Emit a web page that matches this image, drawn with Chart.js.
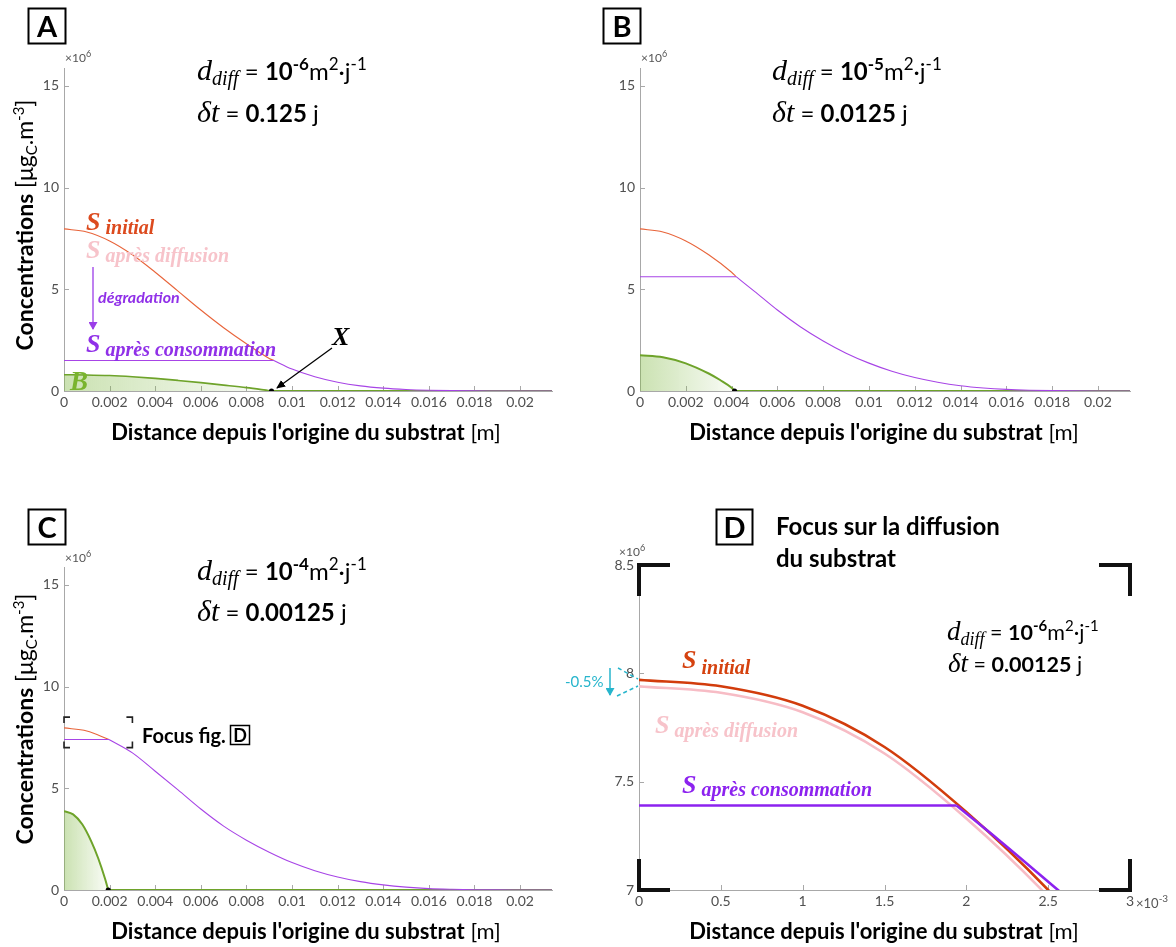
<!DOCTYPE html>
<html><head><meta charset="utf-8">
<script src="https://cdn.jsdelivr.net/npm/chart.js@4/dist/chart.umd.min.js"></script>
<style>
html,body{margin:0;padding:0;background:#fff}
body{width:1176px;height:947px;position:relative;overflow:hidden}
canvas{position:absolute}
#ov{position:absolute;left:0;top:0}
</style></head>
<body>
<canvas id="cA" width="580" height="470" style="left:0;top:0"></canvas>
<canvas id="cB" width="596" height="470" style="left:580px;top:0"></canvas>
<canvas id="cC" width="580" height="477" style="left:0;top:470px"></canvas>
<canvas id="cD" width="596" height="477" style="left:580px;top:470px"></canvas>

<svg id="ov" width="1176" height="947" xmlns="http://www.w3.org/2000/svg">
<defs>
<marker id="ahK" markerWidth="9" markerHeight="8" refX="8" refY="4" orient="auto" markerUnits="userSpaceOnUse"><path d="M0,0 L9,4 L0,8 z" fill="#000"/></marker>
<marker id="ahP" markerWidth="8" markerHeight="9" refX="7" refY="4.5" orient="auto" markerUnits="userSpaceOnUse"><path d="M0,0 L8,4.5 L0,9 z" fill="#9b3de8"/></marker>
<marker id="ahC" markerWidth="8" markerHeight="9" refX="7" refY="4.5" orient="auto" markerUnits="userSpaceOnUse"><path d="M0,0 L8,4.5 L0,9 z" fill="#27b5cc"/></marker>
</defs>

<!-- Panel letters -->
<g font-family="Lato" font-weight="700" font-size="29" text-anchor="middle" fill="#000">
<rect x="28.5" y="8.5" width="37" height="35" fill="none" stroke="#000" stroke-width="2"/>
<text x="47" y="37">A</text>
<rect x="603.5" y="8.5" width="37" height="35" fill="none" stroke="#000" stroke-width="2"/>
<text x="622" y="37">B</text>
<rect x="28.5" y="509.5" width="37" height="35" fill="none" stroke="#000" stroke-width="2"/>
<text x="47" y="538">C</text>
<rect x="716.5" y="509.5" width="36" height="35" fill="none" stroke="#000" stroke-width="2"/>
<text x="734.5" y="538">D</text>
</g>

<!-- x10^6 labels -->
<g font-family="Lato" font-size="12" fill="#555">
<text x="65" y="62">×10<tspan font-size="9" dy="-5">6</tspan></text>
<text x="641" y="62">×10<tspan font-size="9" dy="-5">6</tspan></text>
<text x="65" y="562">×10<tspan font-size="9" dy="-5">6</tspan></text>
<text x="619" y="556">×10<tspan font-size="9" dy="-5">6</tspan></text>
<text x="1136" y="908" font-size="13">×10<tspan font-size="10" dy="-6">-3</tspan></text>
</g>

<!-- Formulas -->
<g font-family="Lato" font-size="24" fill="#000">
<text x="197" y="80"><tspan font-family="Liberation Serif" font-style="italic" font-size="30">d</tspan><tspan font-family="Liberation Serif" font-style="italic" font-size="20" dy="5">diff</tspan><tspan dy="-5"> = </tspan><tspan font-weight="700">10</tspan><tspan font-weight="700" font-size="17" dy="-10">-6</tspan><tspan dy="10">m</tspan><tspan font-size="17" dy="-10">2</tspan><tspan dy="10">·j</tspan><tspan font-size="17" dy="-10">-1</tspan></text>
<text x="197" y="122"><tspan font-family="Liberation Serif" font-style="italic" font-size="30">δt</tspan><tspan> = </tspan><tspan font-weight="700">0.125</tspan><tspan> j</tspan></text>

<text x="772" y="80"><tspan font-family="Liberation Serif" font-style="italic" font-size="30">d</tspan><tspan font-family="Liberation Serif" font-style="italic" font-size="20" dy="5">diff</tspan><tspan dy="-5"> = </tspan><tspan font-weight="700">10</tspan><tspan font-weight="700" font-size="17" dy="-10">-5</tspan><tspan dy="10">m</tspan><tspan font-size="17" dy="-10">2</tspan><tspan dy="10">·j</tspan><tspan font-size="17" dy="-10">-1</tspan></text>
<text x="772" y="122"><tspan font-family="Liberation Serif" font-style="italic" font-size="30">δt</tspan><tspan> = </tspan><tspan font-weight="700">0.0125</tspan><tspan> j</tspan></text>

<text x="197" y="580"><tspan font-family="Liberation Serif" font-style="italic" font-size="30">d</tspan><tspan font-family="Liberation Serif" font-style="italic" font-size="20" dy="5">diff</tspan><tspan dy="-5"> = </tspan><tspan font-weight="700">10</tspan><tspan font-weight="700" font-size="17" dy="-10">-4</tspan><tspan dy="10">m</tspan><tspan font-size="17" dy="-10">2</tspan><tspan dy="10">·j</tspan><tspan font-size="17" dy="-10">-1</tspan></text>
<text x="197" y="621"><tspan font-family="Liberation Serif" font-style="italic" font-size="30">δt</tspan><tspan> = </tspan><tspan font-weight="700">0.00125</tspan><tspan> j</tspan></text>

<g font-size="21.5">
<text x="947" y="640"><tspan font-family="Liberation Serif" font-style="italic" font-size="27">d</tspan><tspan font-family="Liberation Serif" font-style="italic" font-size="18" dy="5">diff</tspan><tspan dy="-5"> = </tspan><tspan font-weight="700">10</tspan><tspan font-weight="700" font-size="15" dy="-9">-6</tspan><tspan dy="9">m</tspan><tspan font-size="15" dy="-9">2</tspan><tspan dy="9">·j</tspan><tspan font-size="15" dy="-9">-1</tspan></text>
<text x="948" y="672"><tspan font-family="Liberation Serif" font-style="italic" font-size="27">δt</tspan><tspan> = </tspan><tspan font-weight="700">0.00125</tspan><tspan> j</tspan></text>
</g>
</g>

<!-- D title -->
<g font-family="Lato" font-weight="700" font-size="24" fill="#000">
<text x="776" y="535">Focus sur la diffusion</text>
<text x="776" y="567">du substrat</text>
</g>

<!-- Axis titles -->
<g font-family="Lato" font-size="22" fill="#000" text-anchor="middle">
<text x="306" y="440"><tspan font-weight="700">Distance depuis l'origine du substrat</tspan> [m]</text>
<text x="884" y="440"><tspan font-weight="700">Distance depuis l'origine du substrat</tspan> [m]</text>
<text x="306" y="939"><tspan font-weight="700">Distance depuis l'origine du substrat</tspan> [m]</text>
<text x="884" y="939"><tspan font-weight="700">Distance depuis l'origine du substrat</tspan> [m]</text>
<text transform="translate(33,225) rotate(-90)" font-size="23"><tspan font-weight="700">Concentrations </tspan><tspan>[μg</tspan><tspan font-size="15" dy="4">C</tspan><tspan dy="-4">.m</tspan><tspan font-size="15" dy="-9">-3</tspan><tspan dy="9">]</tspan></text>
<text transform="translate(33,719) rotate(-90)" font-size="23"><tspan font-weight="700">Concentrations </tspan><tspan>[μg</tspan><tspan font-size="15" dy="4">C</tspan><tspan dy="-4">.m</tspan><tspan font-size="15" dy="-9">-3</tspan><tspan dy="9">]</tspan></text>
</g>

<!-- Panel A annotations -->
<g font-family="Liberation Serif" font-style="italic" font-weight="700">
<text x="86" y="230" fill="#dc4a1e"><tspan font-size="26">S</tspan><tspan font-size="20" dx="5" dy="4">initial</tspan></text>
<text x="86" y="258" fill="#f7c3ca"><tspan font-size="26">S</tspan><tspan font-size="20" dx="5" dy="4">après diffusion</tspan></text>
<text x="86" y="352" fill="#9030e8"><tspan font-size="26">S</tspan><tspan font-size="20" dx="5" dy="4">après consommation</tspan></text>
<text x="70" y="390" fill="#79b42e" font-size="27">B</text>
<text x="332" y="345" fill="#000" font-size="26">X</text>
</g>
<line x1="93" y1="267" x2="93" y2="329" stroke="#9b3de8" stroke-width="1.3" marker-end="url(#ahP)"/>
<text x="98" y="303" font-family="Lato" font-style="italic" font-weight="700" font-size="16" fill="#9030e8">dégradation</text>
<line x1="332" y1="348" x2="277" y2="388" stroke="#000" stroke-width="1.2" marker-end="url(#ahK)"/>

<!-- Panel C annotation -->
<text x="142" y="743" font-family="Lato" font-weight="700" font-size="20" fill="#000">Focus fig.</text>
<rect x="230.5" y="725.5" width="19" height="19" fill="none" stroke="#000" stroke-width="1.5"/>
<text x="240" y="742" font-family="Lato" font-weight="700" font-size="18" text-anchor="middle">D</text>

<!-- Panel D annotations -->
<g font-family="Liberation Serif" font-style="italic" font-weight="700">
<text x="682" y="668" fill="#d5420f"><tspan font-size="26">S</tspan><tspan font-size="20" dx="5" dy="6">initial</tspan></text>
<text x="655" y="733" fill="#f7c3ca"><tspan font-size="26">S</tspan><tspan font-size="20" dx="5" dy="4">après diffusion</tspan></text>
<text x="682" y="793" fill="#8c22ef"><tspan font-size="26">S</tspan><tspan font-size="20" dx="5" dy="3">après consommation</tspan></text>
</g>
<text x="565" y="687" font-family="Lato" font-size="15" fill="#27b5cc">-0.5%</text>
<line x1="610" y1="668" x2="610" y2="695" stroke="#27b5cc" stroke-width="1.5" marker-end="url(#ahC)"/>
<line x1="618" y1="668" x2="638" y2="679" stroke="#27b5cc" stroke-width="1.5" stroke-dasharray="4,3"/>
<line x1="617" y1="696" x2="638" y2="686" stroke="#27b5cc" stroke-width="1.5" stroke-dasharray="4,3"/>
</svg>

<script>
// ================= DATA =================
// shared x ticks (panels A, B, C)
const xTickVals = [0,0.002,0.004,0.006,0.008,0.01,0.012,0.014,0.016,0.018,0.02];
const xTickLabels = ['0','0.002','0.004','0.006','0.008','0.01','0.012','0.014','0.016','0.018','0.02'];
const yTickVals = [0,5,10,15];
const yTickLabels = ['0','5','10','15'];
// panel D ticks
const dXTickVals = [0,0.0005,0.001,0.0015,0.002,0.0025,0.003];
const dXTickLabels = ['0','0.5','1','1.5','2','2.5','3'];
const dYTickVals = [7,7.5,8,8.5];
const dYTickLabels = ['7','7.5','8','8.5'];

// S initial (x10^6 ugC/m3) vs distance (m)
const xGrid    = [0,0.001,0.002,0.003,0.004,0.005,0.006,0.007,0.008,0.009,0.010,0.011,0.012,0.013,0.014,0.015,0.016,0.017,0.018,0.019,0.020,0.0214];
const sInitial = [7.97,7.82,7.38,6.70,5.84,4.91,3.98,3.11,2.32,1.60,1.08,0.70,0.43,0.25,0.14,0.075,0.037,0.016,0.006,0.002,0,0];

// Panel A
const aConsLevel = 1.5, aKink = 0.0092;
const aTailX = [0.0092,0.010,0.011,0.012,0.013,0.014,0.015,0.016,0.017,0.018,0.019,0.020,0.0214];
const aTailY = [1.5,1.08,0.70,0.43,0.25,0.14,0.075,0.037,0.016,0.006,0.002,0,0];
const aBioX = [0,0.001,0.002,0.003,0.004,0.005,0.006,0.007,0.008,0.009,0.0091];
const aBioY = [0.80,0.79,0.76,0.70,0.62,0.52,0.41,0.29,0.165,0.015,0];
const aDot = [0.0091, 0];

// Panel B
const bConsLevel = 5.62, bKink = 0.0042;
const bTailX = [0.0042,0.005,0.006,0.007,0.008,0.009,0.010,0.011,0.012,0.013,0.014,0.015,0.016,0.017,0.018,0.019,0.020,0.0214];
const bTailY = [5.62,4.90,3.98,3.16,2.46,1.86,1.37,0.97,0.66,0.43,0.26,0.15,0.08,0.04,0.018,0.007,0.002,0];
const bBioX = [0,0.001,0.002,0.003,0.0035,0.004,0.00413];
const bBioY = [1.76,1.66,1.36,0.86,0.54,0.16,0];
const bDot = [0.00413, 0];

// Panel C
const cConsLevel = 7.40, cKink = 0.00197;
const cTailX = [0.00197,0.003,0.004,0.005,0.006,0.007,0.008,0.009,0.010,0.011,0.012,0.013,0.014,0.015,0.016,0.017,0.018,0.019,0.020,0.0214];
const cTailY = [7.40,6.74,5.84,4.92,3.98,3.14,2.45,1.86,1.35,0.95,0.64,0.41,0.25,0.14,0.07,0.035,0.015,0.006,0.002,0];
const cBioX = [0,0.0004,0.0008,0.0012,0.0015,0.0018,0.00194];
const cBioY = [3.88,3.72,3.23,2.38,1.56,0.55,0];
const cDot = [0.00194, 0];
const focusX = [0, 0.003], focusY = [7, 8.5];

// Panel D (zoom)
const dX         = [0,0.0005,0.001,0.0015,0.002,0.0025,0.0027];
const dInitial   = [7.97,7.94,7.85,7.66,7.36,7.00,6.83];
const dDiffusion = [7.94,7.91,7.82,7.63,7.33,6.97,6.80];
const dConsLevel = 7.39, dKink = 0.00194;
const dTailX = [0.00194,0.0022,0.00256,0.0027];
const dTailY = [7.39,7.23,7.00,6.91];

const X_MAX = 0.0214, Y_MAX = 15.88;

// ================= HELPERS =================
const AX = '#a8a8a8', TK = '#505050';
const pts = (xs, ys) => xs.map((x, i) => ({x, y: ys[i]}));

const insideTicks = {
  id: 'insideTicks',
  beforeDatasetsDraw(chart) {
    const {ctx, chartArea: a, scales: {x, y}} = chart;
    ctx.save(); ctx.strokeStyle = AX; ctx.lineWidth = 1;
    x.ticks.forEach(t => { const p = Math.round(x.getPixelForValue(t.value)) + 0.5;
      ctx.beginPath(); ctx.moveTo(p, a.bottom); ctx.lineTo(p, a.bottom - 5); ctx.stroke(); });
    y.ticks.forEach(t => { const p = Math.round(y.getPixelForValue(t.value)) + 0.5;
      ctx.beginPath(); ctx.moveTo(a.left, p); ctx.lineTo(a.left + 5, p); ctx.stroke(); });
    ctx.restore();
  }
};

function opts(cw, ch, area, xr, yr, xt, xl, yt, yl) {
  return {
    responsive: false, animation: false, devicePixelRatio: 1,
    layout: {padding: {left: 0, top: area.t, right: cw - area.r, bottom: 0}},
    plugins: {legend: {display: false}, tooltip: {enabled: false}},
    elements: {point: {radius: 0, hoverRadius: 0}},
    scales: {
      x: {type: 'linear', min: xr[0], max: xr[1],
        grid: {display: false, drawTicks: false},
        border: {display: true, color: AX, width: 1},
        afterBuildTicks: ax => { ax.ticks = xt.map(v => ({value: v})); },
        ticks: {autoSkip: false, maxRotation: 0, padding: 3, color: TK,
          font: {family: 'Lato', size: 14}, callback: (v, i) => xl[i]},
        afterFit: s => { s.height = ch - area.b; s.paddingLeft = 0; s.paddingRight = 0; }
      },
      y: {type: 'linear', min: yr[0], max: yr[1],
        grid: {display: false, drawTicks: false},
        border: {display: true, color: AX, width: 1},
        afterBuildTicks: ax => { ax.ticks = yt.map(v => ({value: v})); },
        ticks: {autoSkip: false, padding: 5, color: TK,
          font: {family: 'Lato', size: 14}, callback: (v, i) => yl[i]},
        afterFit: s => { s.width = area.l; s.paddingTop = 0; s.paddingBottom = 0; }
      }
    }
  };
}

const ORANGE = '#e8643a', PURPLE = '#a744e6', GREEN = '#6ea32a';

function greenFill(endX) {
  return (c) => {
    const ch = c.chart; if (!ch.chartArea) return 'rgba(0,0,0,0)';
    const x0 = ch.scales.x.getPixelForValue(0), x1 = ch.scales.x.getPixelForValue(endX);
    const g = ch.ctx.createLinearGradient(x0, 0, x1, 0);
    g.addColorStop(0, 'rgba(130,185,70,0.42)');
    g.addColorStop(1, 'rgba(130,185,70,0.04)');
    return g;
  };
}

function panelDatasets(level, kink, tailX, tailY, bioX, bioY, dot, bioW) {
  // S initial is visible only up to the point where S après consommation joins it
  const orX = xGrid.filter(x => x < kink), orY = sInitial.slice(0, orX.length);
  return [
    {data: [{x: dot[0], y: dot[1]}], showLine: false, pointRadius: 2.6, pointBackgroundColor: '#000', pointBorderWidth: 0, order: 0},
    {data: pts(tailX, tailY), borderColor: PURPLE, borderWidth: 1.1, cubicInterpolationMode: 'monotone', fill: false, order: 1},
    {data: [{x: 0, y: level}, {x: kink, y: level}], borderColor: PURPLE, borderWidth: 1.1, fill: false, order: 1},
    {data: pts(bioX, bioY), borderColor: GREEN, borderWidth: bioW, cubicInterpolationMode: 'monotone',
      fill: 'origin', backgroundColor: greenFill(bioX[bioX.length - 1]), order: 2},
    {data: [{x: dot[0], y: 0}, {x: X_MAX, y: 0}], borderColor: GREEN, borderWidth: 2, fill: false, order: 2},
    {data: pts(orX.concat([kink]), orY.concat([level])), borderColor: ORANGE, borderWidth: 1.1, cubicInterpolationMode: 'monotone', fill: false, order: 3}
  ];
}

function mk(id, datasets, o, plugins) {
  return new Chart(document.getElementById(id), {type: 'line', data: {datasets}, options: o, plugins: [insideTicks, ...(plugins || [])]});
}

// Panel A
mk('cA', panelDatasets(aConsLevel, aKink, aTailX, aTailY, aBioX, aBioY, aDot, 1.6),
  opts(580, 470, {l: 64, t: 68, r: 552, b: 391}, [0, X_MAX], [0, Y_MAX], xTickVals, xTickLabels, yTickVals, yTickLabels));

// Panel B
mk('cB', panelDatasets(bConsLevel, bKink, bTailX, bTailY, bBioX, bBioY, bDot, 2),
  opts(596, 470, {l: 60, t: 68, r: 550, b: 391}, [0, X_MAX], [0, Y_MAX], xTickVals, xTickLabels, yTickVals, yTickLabels));

// Panel C with focus bracket
const focusBracket = {
  id: 'focusBracket',
  afterDatasetsDraw(chart) {
    const {ctx, scales: {x, y}} = chart;
    const l = x.getPixelForValue(focusX[0]), r = x.getPixelForValue(focusX[1]);
    const t = y.getPixelForValue(focusY[1]), b = y.getPixelForValue(focusY[0]);
    const k = 6;
    ctx.save(); ctx.strokeStyle = '#222'; ctx.lineWidth = 1.6;
    [[l, t, 1, 1], [r, t, -1, 1], [l, b, 1, -1], [r, b, -1, -1]].forEach(([px, py, sx, sy]) => {
      ctx.beginPath(); ctx.moveTo(px + sx * k, py); ctx.lineTo(px, py); ctx.lineTo(px, py + sy * k); ctx.stroke();
    });
    ctx.restore();
  }
};
mk('cC', panelDatasets(cConsLevel, cKink, cTailX, cTailY, cBioX, cBioY, cDot, 2),
  opts(580, 477, {l: 64, t: 97, r: 552, b: 420}, [0, X_MAX], [0, Y_MAX], xTickVals, xTickLabels, yTickVals, yTickLabels),
  [focusBracket]);

// Panel D with corner brackets
const cornerBrackets = {
  id: 'cornerBrackets',
  afterDatasetsDraw(chart) {
    const {ctx, chartArea: a} = chart;
    const k = 31;
    ctx.save(); ctx.strokeStyle = '#111'; ctx.lineWidth = 4; ctx.lineJoin = 'miter'; ctx.lineCap = 'butt';
    [[a.left, a.top, 1, 1], [a.right, a.top, -1, 1], [a.left, a.bottom, 1, -1], [a.right, a.bottom, -1, -1]].forEach(([px, py, sx, sy]) => {
      ctx.beginPath(); ctx.moveTo(px + sx * k, py); ctx.lineTo(px, py); ctx.lineTo(px, py + sy * k); ctx.stroke();
    });
    ctx.restore();
  }
};
mk('cD', [
    {data: pts(dTailX, dTailY), borderColor: '#8c22ef', borderWidth: 2.6, cubicInterpolationMode: 'monotone', fill: false, order: 1},
    {data: [{x: 0, y: dConsLevel}, {x: dKink, y: dConsLevel}], borderColor: '#8c22ef', borderWidth: 2.6, fill: false, order: 1},
    {data: pts(dX, dInitial), borderColor: '#d23c0c', borderWidth: 2.6, cubicInterpolationMode: 'monotone', fill: false, order: 2},
    {data: pts(dX, dDiffusion), borderColor: '#f7bcc5', borderWidth: 2.6, cubicInterpolationMode: 'monotone', fill: false, order: 3}
  ],
  opts(596, 477, {l: 59, t: 95, r: 550, b: 420}, [0, 0.003], [7, 8.5], dXTickVals, dXTickLabels, dYTickVals, dYTickLabels),
  [cornerBrackets]);
</script>
</body></html>
